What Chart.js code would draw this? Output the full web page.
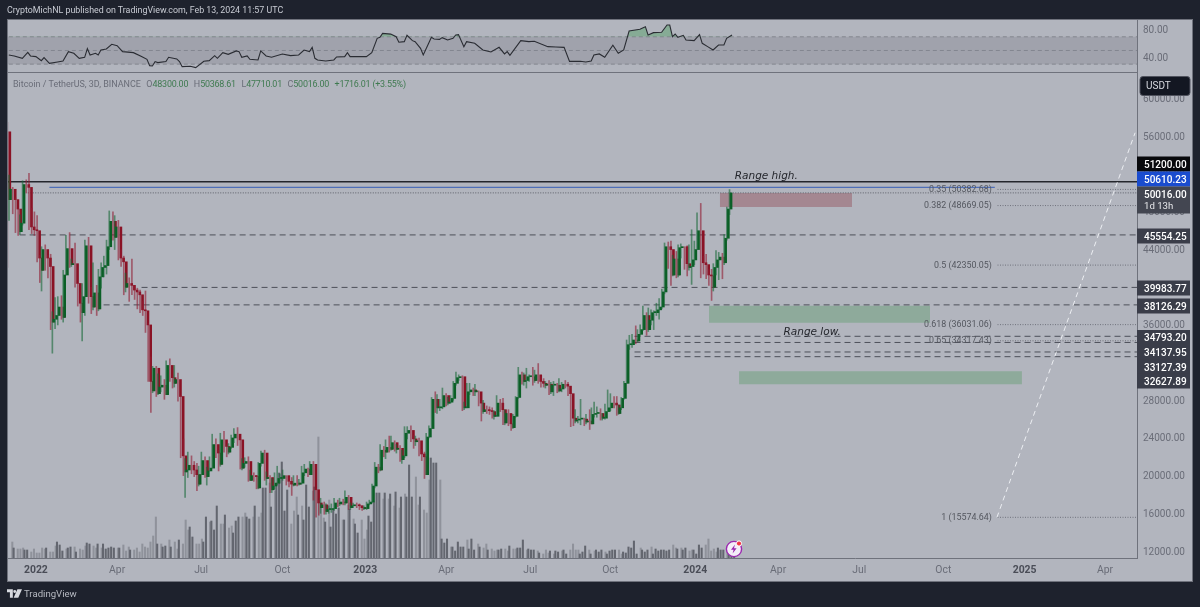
<!DOCTYPE html>
<html><head><meta charset="utf-8">
<script src="https://cdn.jsdelivr.net/npm/chart.js@4/dist/chart.umd.min.js"></script>
<style>
html,body{margin:0;padding:0;background:#1e222d;width:1200px;height:607px;overflow:hidden;font-family:Roboto,sans-serif}
#panel{position:absolute;left:7px;top:19px;width:1184px;height:561px;background:#b2b5be;border:1px solid #6f727c}
canvas{position:absolute;left:0;top:0}
.t{position:absolute;white-space:pre}
#head{left:7px;top:3px;color:#c9ccd4;font-size:8.85px;line-height:15px}
#leg{left:13px;top:77px;font-size:8.95px;line-height:15px;color:#6a6d78}
#leg b{font-weight:400;color:#3f7a50;letter-spacing:-.22px}
#leg i{font-style:normal;margin-left:5.5px}
#foot{left:24px;top:586px;color:#b7bac2;font-size:9.6px;line-height:16px}
#logo{position:absolute;left:7px;top:589px}
#bolt{position:absolute;left:725px;top:540px}
</style></head><body>
<div id="panel"></div>
<canvas id="c" width="1200" height="607"></canvas>
<div class="t" id="head">CryptoMichNL published on TradingView.com, Feb 13, 2024 11:57 UTC</div>
<div class="t" id="leg">Bitcoin / TetherUS, 3D, BINANCE<i>O</i><b>48300.00</b><i>H</i><b>50368.61</b><i>L</i><b>47710.01</b><i>C</i><b>50016.00</b><i></i><b>+1716.01 (+3.55%)</b></div>
<svg id="logo" width="15" height="9" viewBox="0 0 36 20"><path fill="#d8dae0" d="M0 0h14v20H7V7H0zM25 0h11l-9 20H16zM15 5a3.5 3.5 0 1 0 7 0a3.5 3.5 0 1 0-7 0"/></svg>
<div class="t" id="foot">TradingView</div>
<svg id="bolt" width="18" height="18" viewBox="0 0 18 18"><circle cx="9" cy="9" r="7.6" fill="#f4eef8" stroke="#9c27b0" stroke-width="1.4"/><path d="M10 4.5L6 9.8h2.6L7.6 13.5l4-5.3H9z" fill="#9c27b0"/><circle cx="14" cy="3.5" r="2.6" fill="#f23645" stroke="#fff" stroke-width="1"/></svg>
<script>
// ---- data ----
const firstOpen = 56.5; // thousand USDT
const closes = [
49.3,50.4,49.3,48.3,45.9,46.8,50.9,50.6,46.4,46.1,
46.0,43.1,41.8,44.0,43.1,42.2,36.3,36.6,37.0,37.9,
36.8,41.3,44.1,42.4,42.5,40.4,38.3,37.3,39.0,44.4,
39.0,37.9,39.4,37.7,41.1,42.1,42.3,44.3,47.0,45.3,
46.4,43.1,42.7,40.0,40.4,40.2,39.7,39.5,39.2,37.6,
37.5,36.0,30.0,29.0,31.4,28.7,29.4,29.6,28.6,31.7,
30.4,29.8,30.2,28.4,22.1,20.4,20.6,21.1,20.6,20.1,
19.1,20.1,21.6,19.9,20.5,20.8,23.3,22.4,21.2,23.8,
23.1,22.5,23.0,24.0,24.4,23.8,20.8,21.3,21.5,19.5,
20.0,19.9,18.7,21.3,22.4,19.7,19.8,18.5,18.9,19.2,
19.7,19.7,20.0,19.4,19.1,19.0,19.2,19.1,19.2,20.3,
20.7,20.1,21.2,18.5,17.1,16.6,16.9,16.2,16.4,16.4,
16.5,17.1,17.0,17.2,17.1,17.7,16.6,16.8,16.9,16.8,
16.6,16.5,16.5,17.0,17.2,18.9,20.9,20.6,22.7,22.5,
23.0,22.8,23.5,22.8,22.9,21.7,22.1,24.5,24.8,23.9,
23.6,23.7,22.3,22.0,20.1,24.1,25.0,28.1,27.2,27.2,
27.3,28.5,27.7,27.8,28.2,29.8,30.4,30.5,27.2,27.2,
28.9,29.1,28.9,28.9,27.7,26.8,27.0,26.9,26.8,26.3,
26.3,27.7,27.0,25.6,26.6,25.5,25.1,26.3,28.3,30.7,
30.0,30.1,30.5,30.5,30.1,30.7,30.0,29.8,29.6,29.7,
28.9,29.6,29.6,29.0,29.2,29.7,29.5,28.7,26.1,25.8,
25.9,26.0,26.0,25.7,25.8,25.5,26.5,26.6,26.6,26.1,
26.1,26.8,27.2,27.7,27.5,26.6,27.2,28.2,29.8,33.9,
33.9,34.4,34.3,35.0,35.5,37.0,35.5,36.5,37.3,37.3,
37.6,37.9,39.5,44.3,44.0,41.3,43.0,41.3,44.2,44.3,
42.5,42.1,42.2,42.9,44.0,46.0,42.6,42.4,41.3,41.2,
40.0,42.1,42.9,43.2,42.6,45.2,48.3,50.016];
const highs = [
57.5,51.9,50.6,49.5,48.4,47.7,51.3,51.4,52.1,48.4,
48.0,47.6,43.4,44.3,44.5,43.4,43.5,37.4,38.9,39.0,
39.1,41.8,45.5,45.8,43.0,44.7,40.4,39.4,40.4,45.0,
45.3,40.0,42.6,40.2,41.9,42.6,43.3,45.0,48.1,48.0,
47.6,47.1,44.0,43.3,41.5,41.0,43.0,40.2,39.9,39.7,
38.5,39.6,36.2,32.6,31.6,31.6,30.8,30.6,30.2,32.2,
32.4,30.6,31.7,30.9,28.5,23.9,21.8,22.5,22.1,21.5,
21.3,21.0,22.5,22.0,20.9,22.0,24.4,23.9,22.7,24.5,
24.7,23.3,23.4,24.3,25.0,25.1,24.0,21.8,21.9,22.0,
20.6,20.3,20.0,21.4,22.6,22.7,20.4,20.0,19.7,20.3,
21.0,20.2,20.6,20.0,19.9,19.8,20.0,20.0,19.6,21.0,
21.2,20.8,21.5,21.5,18.6,17.4,17.6,17.2,17.0,16.8,
17.0,17.6,17.4,17.6,17.5,18.4,17.9,17.1,17.1,17.1,
17.0,16.8,16.8,17.2,17.4,19.1,21.4,21.2,23.3,23.1,
23.8,24.2,24.2,23.7,23.3,23.2,22.7,25.2,25.2,25.3,
24.3,24.2,24.0,22.8,22.5,24.5,25.3,28.3,28.9,28.6,
28.1,29.3,28.7,28.3,28.5,30.0,31.0,30.7,30.6,27.8,
29.8,29.8,29.3,29.7,29.0,27.9,28.0,27.4,27.3,27.2,
26.9,28.5,28.1,28.2,27.0,27.0,26.2,26.5,28.4,31.5,
31.0,30.9,31.4,30.7,31.5,31.2,31.9,30.5,30.3,30.0,
30.1,29.9,30.0,29.8,30.3,29.9,30.1,29.9,28.8,26.5,
27.0,26.3,28.1,26.1,26.5,27.0,27.2,27.8,27.3,27.1,
26.6,27.6,29.1,28.7,28.4,28.4,27.5,28.3,30.0,34.4,
34.9,35.0,35.9,35.5,36.0,38.0,37.3,37.8,37.6,37.5,
38.3,38.8,39.8,44.7,44.8,44.9,43.4,43.8,44.5,44.6,
44.1,44.4,44.5,46.1,44.9,47.9,48.9,43.3,43.5,41.9,
41.9,42.5,43.9,43.7,43.6,45.6,48.5,50.369];
const lows = [
42.1,47.1,47.8,45.8,45.5,45.6,46.6,50.0,46.1,45.7,
45.5,42.7,40.5,39.6,41.8,41.0,35.5,33.0,35.6,36.0,
36.6,36.3,41.3,42.1,42.2,40.0,38.0,36.3,34.3,37.0,
38.3,37.2,37.6,37.0,37.5,39.9,41.1,41.4,44.0,45.0,
44.0,42.9,42.2,39.2,39.5,38.5,39.2,38.7,37.7,37.3,
37.0,35.2,30.0,26.7,28.8,28.4,28.6,28.9,28.1,28.6,
30.0,29.3,29.4,27.9,21.9,20.0,17.7,19.8,20.2,19.9,
18.4,18.9,20.2,19.8,19.0,20.5,20.8,21.9,20.5,21.0,
22.5,22.0,22.3,22.9,23.5,23.2,20.7,20.6,20.9,19.4,
19.5,19.4,18.6,18.6,21.0,19.5,19.0,18.2,18.2,18.6,
19.0,19.2,19.5,19.0,18.8,17.9,18.9,18.9,19.0,19.1,
20.0,19.9,20.1,17.4,15.6,15.8,16.0,15.9,15.9,16.0,
16.1,16.3,16.7,16.8,16.9,16.9,16.4,16.4,16.6,16.6,
16.4,16.3,16.4,16.4,16.9,17.1,18.7,20.3,20.5,22.0,
21.8,22.5,22.7,22.6,22.4,21.5,21.3,21.9,23.9,23.6,
22.9,23.2,22.1,21.6,19.7,20.1,24.0,25.0,26.7,26.6,
26.9,27.1,27.4,27.5,27.7,28.0,29.6,30.1,26.9,27.0,
27.2,28.6,28.5,28.5,27.4,25.8,26.6,26.6,26.5,26.1,
26.0,26.3,26.8,25.4,25.4,25.3,24.8,25.0,26.2,28.2,
29.7,29.6,29.3,30.0,29.6,29.9,29.8,29.4,29.4,29.3,
28.6,28.7,28.5,28.8,28.9,28.9,29.3,28.5,25.2,25.3,
25.6,25.6,25.4,25.3,25.5,24.9,25.7,26.2,26.2,25.9,
25.9,26.0,26.8,26.9,27.2,26.4,26.5,27.0,28.1,29.8,
33.4,33.6,34.0,34.2,34.9,35.4,34.9,35.3,36.0,35.5,
37.0,36.6,37.7,39.3,42.0,40.2,41.2,41.0,41.1,43.1,
41.9,41.2,41.8,40.3,42.4,44.6,41.0,41.4,40.9,40.2,
38.6,39.6,41.3,40.8,40.9,42.4,45.0,47.71];
const volumes = [ // relative bar height
16,10,9,9,10,8,8,6,9,5,5,10,9,10,6,6,12,16,13,7,
9,10,11,11,6,9,8,12,15,14,12,10,14,10,14,9,10,11,10,10,
10,13,7,11,8,8,10,6,14,11,10,16,22,41,14,14,11,12,18,11,
16,9,18,14,38,28,31,21,14,14,19,16,41,36,37,28,52,34,34,43,
30,32,25,37,41,41,45,41,39,41,52,41,45,70,70,75,51,67,75,85,
96,47,68,34,47,61,43,52,38,73,51,67,71,121,54,40,36,58,31,48,
44,50,38,38,53,49,39,34,25,38,19,28,42,36,56,65,65,59,65,59,
64,52,66,50,61,64,61,93,61,81,53,61,48,45,78,100,95,95,78,19,
15,19,11,11,7,16,11,11,18,9,19,8,14,11,10,14,8,9,7,8,
8,9,9,7,12,9,9,10,10,18,8,9,8,8,7,5,4,8,5,7,
4,7,6,7,8,4,8,14,8,8,4,6,12,8,4,7,8,6,8,6,
4,7,8,8,8,4,6,5,11,10,17,4,10,8,6,8,11,4,9,7,
8,8,7,8,13,10,9,10,8,10,7,8,8,4,13,10,13,19,7,9,
6,10,8,8,8,9,3,2];
const rsiIdx = [0,2,5,7,8,10,12,13,15,18,20,22,24,26,28,29,30,32,33,34,36,38,40,42,46,49,51,52,53,54,55,58,59,62,63,64,67,69,72,74,76,77,79,81,84,85,86,88,89,92,93,95,97,101,104,107,109,111,112,113,114,117,120,121,124,125,126,130,132,134,136,137,138,141,143,144,146,147,149,150,152,153,155,156,157,159,160,162,164,165,166,168,169,172,175,178,181,183,184,185,189,192,194,199,202,205,207,211,213,215,216,218,220,223,225,227,229,233,235,236,238,241,243,244,245,246,247,249,250,253,255,256,258,260,262,264,265,267];
const rsiVal = [43.4,42,38.5,47.3,42,41,35.1,39.5,31.2,33.2,34.6,48.3,45.9,38.5,40,52.7,43.4,45.9,43.4,50.7,52.2,59,57,48.3,46.8,41,37.1,27.8,27.3,33.7,32.2,33.7,40,37.6,33.7,26.3,26.8,24.9,34.1,35.1,42.4,38.5,46.8,44.4,49.3,48.3,40,42,37.1,36.1,49.3,42,40,44.9,42.4,43.4,50.7,48.3,54.6,38.5,36.1,34.6,36.1,40.5,41,46.8,41,41,41,46.8,67.8,69.3,75,74,70.2,62,62.9,72.2,64.4,62.9,53.2,43.4,60.5,69.3,66.8,66.3,68.8,65.4,67.8,72.7,73.2,55.6,62.9,60.5,50.7,47.8,54.6,44.9,48.3,42.9,64.4,62.9,63.4,55.6,55.1,54.6,34.1,34.1,33.2,34.6,43.4,44.9,40,57.6,45.9,50.7,78.5,81,84.9,72.7,76.1,76.6,87.3,87.3,70.2,74.1,69.3,72.2,65.4,64.4,73.2,60.5,55.6,50.7,58,58,67.8,72.7];
const priceTicks = [60000,56000,52000,48000,44000,40000,36000,32000,28000,24000,20000,16000,12000];
const rsiTicks = [80,40];
const rsiBands = [70,50,30];
const timeIdx = [10,40,71,101,131.6,161.5,192.5,222,253.4,284,314,345,375,404.7];
const timeLabels = ['2022','Apr','Jul','Oct','2023','Apr','Jul','Oct','2024','Apr','Jul','Oct','2025','Apr'];
const yearLabels = ['2022','2023','2024','2025'];
const dashedPrices = [45554.25,39983.77,38126.29,34793.20,34137.95,33127.39,32627.89];
const dashedStarts = [4,49,35,231,231,231,231];
const fibLevels = ['0.35','0.382','0.5','0.618','0.65','1'];
const fibPrices = [50382.68,48669.05,42350.05,36031.06,34317.43,15574.64];
const rangeHigh = 51200, supplyLine = 50610.23, lastPrice = 50016;
const zoneTop = [50000,38030,31070], zoneBottom = [48516,36230,29700];
const zoneFrom = [262.5,258.5,269.6], zoneTo = [311.3,340.1,374];
const projX = [364.8,415.8], projY = [15574.64,56400];
const tagPrices = [51200,50610.23,50016,45554.25,39983.77,38126.29,34793.20,34137.95,33127.39,32627.89];
const notes = [['Range high.',268,51450],['Range low.',286,34900]];

// ---- layout / style ----
const xMax = 416.5;
const tagRow = [164,179,194,236,288,306,337.5,352.5,367,381];
const tagFill = ['#08090c','#1a4ccf','#434651','#3a3d49','#3a3d49','#3a3d49','#3a3d49','#3a3d49','#3a3d49','#3a3d49'];
const UI = 'Roboto,sans-serif';
const GU='#0b5f26', RD='#8a1225', GUW='rgba(24,105,55,.6)', RDW='rgba(145,28,50,.6)';

const n = closes.length;
const O=[], C=[], H=[], L=[];
for(let i=0;i<n;i++){const o=(i?closes[i-1]:firstOpen)*1000,c=closes[i]*1000;O.push(o);C.push(c);H.push(Math.max(highs[i]*1000,o,c));L.push(Math.min(lows[i]*1000,o,c));}
const idx=[...Array(n).keys()];
const up=i=>C[i]>=O[i];
const pick=(f,m)=>idx.filter(f).map(m);
const hline=(y,x0,x1,color,dash,width,order,axis)=>({type:'line',xAxisID:'x',yAxisID:axis||'y',data:[{x:x0,y},{x:x1,y}],borderColor:color,borderDash:dash,borderWidth:width,pointRadius:0,fill:false,order});
const datasets=[];
// RSI pane
datasets.push({type:'line',xAxisID:'x',yAxisID:'rsi',data:[{x:-1,y:rsiBands[0]},{x:xMax,y:rsiBands[0]}],borderWidth:0,pointRadius:0,backgroundColor:'rgba(70,73,84,.17)',fill:{target:{value:rsiBands[2]}},order:60});
rsiBands.forEach(b=>datasets.push(hline(b,0,xMax,'#83868f',[4,3],1,55,'rsi')));
datasets.push(hline(17,-1,xMax,'#6f727c',[],2,54,'rsi'));
datasets.push({type:'line',xAxisID:'x',yAxisID:'rsi',data:rsiIdx.map((x,i)=>({x,y:rsiVal[i]})),borderColor:'#2a2c33',borderWidth:1.1,pointRadius:0,tension:0,
  fill:{target:{value:rsiBands[0]},above:'rgba(80,160,100,.45)',below:'rgba(0,0,0,0)'},order:50});
// zones
zoneTop.forEach((t,i)=>datasets.push({type:'line',xAxisID:'x',yAxisID:'y',data:[{x:zoneFrom[i],y:t},{x:zoneTo[i],y:t}],borderWidth:0,pointRadius:0,
  backgroundColor:i?'rgba(105,160,120,.5)':'rgba(150,90,100,.5)',fill:{target:{value:zoneBottom[i]}},order:40}));
// volume
datasets.push({type:'bar',xAxisID:'x',yAxisID:'vol',data:pick(up,i=>({x:i,y:volumes[i]})),backgroundColor:'#63666f',barThickness:1.4,order:30});
datasets.push({type:'bar',xAxisID:'x',yAxisID:'vol',data:pick(i=>!up(i),i=>({x:i,y:volumes[i]})),backgroundColor:'#8f929b',barThickness:1.4,order:30});
// levels
dashedPrices.forEach((p,i)=>datasets.push(hline(p,dashedStarts[i],xMax,'#4d505a',[6,4],1,20)));
fibPrices.forEach(p=>datasets.push(hline(p,365,xMax,'#70737d',[1,1.5],1,21)));
datasets.push(hline(lastPrice,7,xMax,'#5d606a',[1,1.5],1,21));
datasets.push(hline(rangeHigh,-3,xMax,'#24262c',[],1.3,18));
datasets.push(hline(supplyLine,15,364,'#4f6fb8',[],1.2,19));
datasets.push({type:'line',xAxisID:'x',yAxisID:'y',data:projX.map((x,i)=>({x,y:projY[i]})),borderColor:'#eceef2',borderDash:[5,4],borderWidth:1,pointRadius:0,fill:false,order:17});
// candles
const mk=(f,fn,col,th,min)=>({type:'bar',xAxisID:'x',yAxisID:'y',data:pick(f,i=>({x:i,y:fn(i)})),backgroundColor:col,barThickness:th,minBarLength:min,order:10});
datasets.push(mk(up,i=>[L[i],H[i]],GUW,1,0));
datasets.push(mk(i=>!up(i),i=>[L[i],H[i]],RDW,1,0));
datasets.push(mk(up,i=>[O[i],C[i]],GU,2,1));
datasets.push(mk(i=>!up(i),i=>[C[i],O[i]],RD,2,1));

const setTicks=list=>(s=>{s.ticks=list.map(value=>({value}));});
const overlay={id:'overlay',afterDraw(ch){
  const g=ch.ctx,sx=ch.scales.x,sy=ch.scales.y;
  g.save();
  // fibonacci labels
  g.font='8.9px '+UI;g.fillStyle='#54575f';g.textAlign='right';g.textBaseline='middle';
  fibPrices.forEach((p,i)=>g.fillText(fibLevels[i]+' ('+p.toFixed(2)+')',sx.getPixelForValue(364)-3,sy.getPixelForValue(p)+.5));
  // notes
  g.font='italic 10.5px "DejaVu Sans",sans-serif';g.fillStyle='#24262c';g.textAlign='left';g.textBaseline='alphabetic';
  notes.forEach(([t,x,p])=>g.fillText(t,sx.getPixelForValue(x),sy.getPixelForValue(p)));
  // price tags
  const ax=ch.chartArea.right,w=53;
  g.textBaseline='middle';g.textAlign='left';
  tagPrices.forEach((p,i)=>{
    const y=tagRow[i],h=15,extra=i===2?12:0;
    g.fillStyle=tagFill[i];g.fillRect(ax,y-h/2,w,h+extra);
    g.font='500 10px '+UI;g.fillStyle='#fff';g.fillText(p.toFixed(2),ax+7,y+1);
    if(i===2){g.font='9.6px '+UI;g.fillStyle='#e6e7ea';g.fillText('1d 13h',ax+7,y+13);}
  });
  // currency chip
  g.fillStyle='#131722';g.strokeStyle='#50535e';g.beginPath();g.roundRect(ax+3,76.5,50,19,3);g.fill();g.stroke();
  g.fillStyle='#d8dae0';g.font='10px '+UI;g.fillText('USDT',ax+9,86.5);
  g.restore();
}};

new Chart(document.getElementById('c'),{
  type:'bar',
  data:{datasets},
  plugins:[overlay],
  options:{
    responsive:false,animation:false,devicePixelRatio:1,
    layout:{padding:{left:8,right:8,top:20,bottom:26}},
    plugins:{legend:{display:false},tooltip:{enabled:false},title:{display:false}},
    scales:{
      x:{type:'linear',position:'bottom',offset:false,min:-0.3,max:xMax,
        afterFit:s=>{s.height=23;},afterBuildTicks:setTicks(timeIdx),
        grid:{display:false,drawTicks:false},border:{color:'#6f727c',width:1},
        ticks:{autoSkip:false,maxRotation:0,padding:6,
          callback:(v,i)=>timeLabels[i],
          color:c=>yearLabels.includes(timeLabels[c.index])?'#4a4d57':'#6a6d78',
          font:c=>({family:UI,size:10.4,weight:yearLabels.includes(timeLabels[c.index])?'700':'400'})}},
      rsi:{type:'linear',position:'right',stack:'p',stackWeight:53,weight:1,min:17,max:94.64,
        afterFit:s=>{s.width=55;},afterBuildTicks:setTicks(rsiTicks),
        grid:{display:false,drawTicks:false},border:{color:'#6f727c',width:1},
        ticks:{padding:6,labelOffset:1,color:'#6a6d78',font:{family:UI,size:10},callback:v=>v.toFixed(2)}},
      y:{type:'linear',position:'right',stack:'p',stackWeight:485,weight:2,min:11257,max:62743,
        afterFit:s=>{s.width=55;},afterBuildTicks:setTicks(priceTicks),
        grid:{display:false,drawTicks:false},border:{color:'#6f727c',width:1},
        ticks:{padding:6,labelOffset:1,color:'#6a6d78',font:{family:UI,size:10},callback:v=>v.toFixed(2)}},
      vol:{type:'linear',display:false,position:'right',min:0,max:538}
    }
  }
});
</script>
</body></html>
